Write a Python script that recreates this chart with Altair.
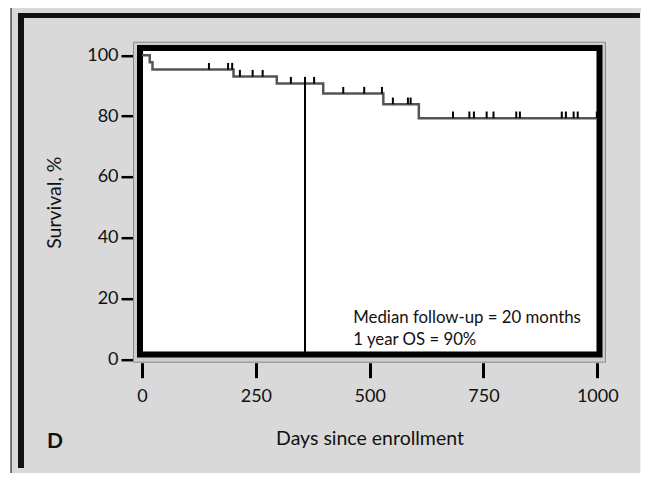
import altair as alt
import numpy as np
import pandas as pd

# Kaplan-Meier steps (day of drop, survival % after drop)
step_days = [0, 17, 23, 201, 296, 398, 530, 608, 1000]
step_surv = [100, 97.7, 95.3, 93.0, 90.7, 87.4, 83.9, 79.3, 79.3]

# censoring marks (days)
censor_days = [147, 189, 198, 215, 243, 265, 327, 358, 378, 442, 488, 527,
               551, 584, 590, 683, 719, 729, 757, 772, 822, 830, 922, 931,
               948, 957, 999]

# one-year landmark
landmark_day = [358]
landmark_surv = [90.7]

x_ticks = [0, 250, 500, 750, 1000]
y_ticks = [0, 20, 40, 60, 80, 100]

notes = ["Median follow-up = 20 months", "1 year OS = 90%"]
note_y = [13.5, 6.3]
note_x = [464, 464]

# ---- tables ----
curve_df = pd.DataFrame({"day": step_days, "surv": step_surv})
idx = np.searchsorted(np.array(step_days), np.array(censor_days), side="right") - 1
cens_df = pd.DataFrame({"day": censor_days, "surv": np.array(step_surv)[idx]})
land_df = pd.DataFrame({"day": landmark_day, "surv": landmark_surv})
note_df = pd.DataFrame({"day": note_x, "surv": note_y, "txt": notes})
dummy = pd.DataFrame({"k": [0]})

W, H = 473, 321
FONT = "Lato"

xscale = alt.Scale(domain=[-19.8, 1019.1], nice=False, zero=False)
yscale = alt.Scale(domain=[-1.15, 104.48], nice=False, zero=False)

xaxis = alt.Axis(values=x_ticks, format="d", tickSize=15, tickWidth=3, tickColor="black",
                 domain=False, grid=False, labelFontSize=18, labelFont=FONT,
                 labelColor="#111111", labelPadding=10, labelFlush=False,
                 title="Days since enrollment", titleFont=FONT, titleFontSize=19.5,
                 titleFontWeight="normal", titleColor="#111111", titlePadding=24)
yaxis = alt.Axis(values=y_ticks, format="d", tickSize=12, tickWidth=2.5, tickColor="black",
                 domain=False, grid=False, labelFontSize=18, labelFont=FONT,
                 labelColor="#111111", labelPadding=3, labelFlush=False,
                 title="Survival, %", titleFont=FONT, titleFontSize=19.5,
                 titleFontWeight="normal", titleColor="#111111", titlePadding=22)

def rect(x, x2, y, y2, **kw):
    return alt.Chart(dummy).mark_rect(**kw).encode(
        x=alt.value(x), x2=alt.value(x2), y=alt.value(y), y2=alt.value(y2))

# figure-frame decorations
deco = [
    rect(-125, -122, -40, 440, fill="white"),
    rect(-122.5, -121.5, -40, 440, fill="black"),
    rect(-115, 507, -28.7, -23.7, fill="#111111"),
    rect(-115, -109, -28.7, 426.3, fill="#111111"),
    rect(-115, 507, 432.5, 434.5, fill="#f2f2f2"),
    rect(507, 509, -28.7, 434.5, fill="#f2f2f2"),
]

band = rect(0.5, W - 0.5, 0.5, H - 0.5, fill="#cdcdcd", stroke="#8a8a8a", strokeWidth=1)
inner = rect(7, 466.5, 6.3, 312.8, fill="white", stroke="black", strokeWidth=6)

curve = alt.Chart(curve_df).mark_line(interpolate="step-after", color="#555555",
                                      strokeWidth=2.5).encode(
    x=alt.X("day:Q", scale=xscale, axis=xaxis),
    y=alt.Y("surv:Q", scale=yscale, axis=yaxis))

ticks = alt.Chart(cens_df).transform_calculate(top="datum.surv + 2.2").mark_rule(
    color="black", strokeWidth=2).encode(x="day:Q", y="surv:Q", y2="top:Q")

vline = alt.Chart(land_df).transform_calculate(lo="2", hi="datum.surv + 2.2").mark_rule(
    color="black", strokeWidth=2).encode(x="day:Q", y="lo:Q", y2="hi:Q")

text = alt.Chart(note_df).mark_text(align="left", baseline="middle", font=FONT,
                                    fontSize=16.8, color="#111111").encode(
    x="day:Q", y="surv:Q", text="txt:N")

dlabel = alt.Chart(dummy).mark_text(align="left", baseline="alphabetic", font=FONT,
                                    fontSize=21, fontWeight="bold", color="#111111").encode(
    x=alt.value(-86), y=alt.value(406.3), text=alt.value("D"))

chart = alt.layer(*deco, band, inner, curve, ticks, vline, text, dlabel).properties(
    width=W, height=H,
    padding={"left": 125, "top": 33.7, "right": 35, "bottom": 110},
    autosize=alt.AutoSizeParams(type="none"),
    background="#d9d9d9",
).configure_view(stroke=None)

chart.save("out.html", embed_options={"renderer": "svg", "actions": False})
